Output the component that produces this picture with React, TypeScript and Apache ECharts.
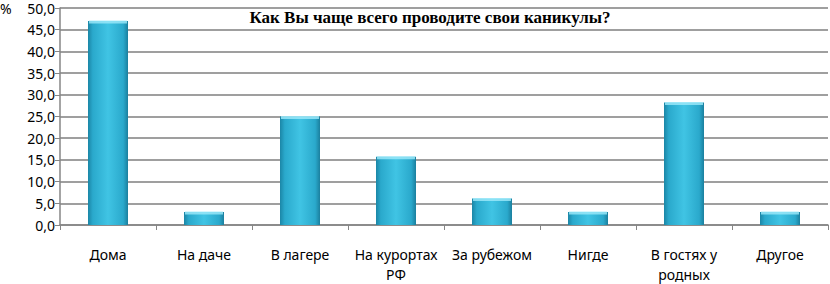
import React, { useEffect, useRef } from "react";
import * as echarts from "echarts";

const categories = ["Дома", "На даче", "В лагере", "На курортах\nРФ", "За рубежом", "Нигде", "В гостях у\nродных", "Другое"];
const values = [47.0, 3.0, 25.0, 15.7, 6.1, 3.0, 28.2, 3.0];
const titleText = "Как Вы чаще всего проводите свои каникулы?";

export default function App() {
  const ref = useRef<HTMLDivElement>(null);
  useEffect(() => {
    const chart = echarts.init(ref.current!, null, { renderer: "svg" });
    chart.setOption({
      animation: false,
      title: {
        text: titleText,
        left: 425,
        textAlign: "center",
        top: 4,
        textStyle: { fontFamily: "Liberation Serif", fontWeight: "bold", fontSize: 17, color: "#000" },
      },
      graphic: [
        { type: "text", left: 0, top: 1, style: { text: "%", fontFamily: "Noto Sans", fontSize: 14, fill: "#000" } },
      ],
      grid: { left: 60, right: 2, top: 8, bottom: 54 },
      xAxis: {
        type: "category",
        data: categories,
        axisLine: { lineStyle: { color: "#868686", width: 1.5 } },
        axisTick: { show: true, length: 5, lineStyle: { color: "#868686" } },
        axisLabel: { interval: 0, color: "#000", fontFamily: "Noto Sans", fontSize: 14, margin: 19, lineHeight: 20 },
      },
      yAxis: {
        type: "value",
        min: 0,
        max: 50,
        interval: 5,
        axisLine: { show: true, lineStyle: { color: "#868686", width: 1.5 } },
        axisTick: { show: true, length: 5, lineStyle: { color: "#868686" } },
        splitLine: { lineStyle: { color: "#7f7f7f", width: 1.5 } },
        axisLabel: {
          color: "#000",
          fontFamily: "Noto Sans",
          fontSize: 14,
          margin: 5,
          formatter: (v: number) => v.toFixed(1).replace(".", ","),
        },
      },
      series: [
        {
          type: "bar",
          data: values,
          barWidth: 40,
          itemStyle: {
            color: new echarts.graphic.LinearGradient(0, 0, 1, 0, [
              { offset: 0, color: "#1b86a6" },
              { offset: 0.12, color: "#2aa9cc" },
              { offset: 0.5, color: "#40c4e4" },
              { offset: 0.88, color: "#2aa9cc" },
              { offset: 1, color: "#1b7f9e" },
            ]),
          },
        },
        {
          type: "scatter",
          data: values,
          symbol: "rect",
          symbolSize: [38, 3],
          symbolOffset: [0, 1],
          itemStyle: { color: "#9feafa" },
          silent: true,
        },
      ],
    });
    return () => chart.dispose();
  }, []);
  return <div ref={ref} style={{ width: 830, height: 284, position: "absolute", left: 0, top: 0 }} />;
}
